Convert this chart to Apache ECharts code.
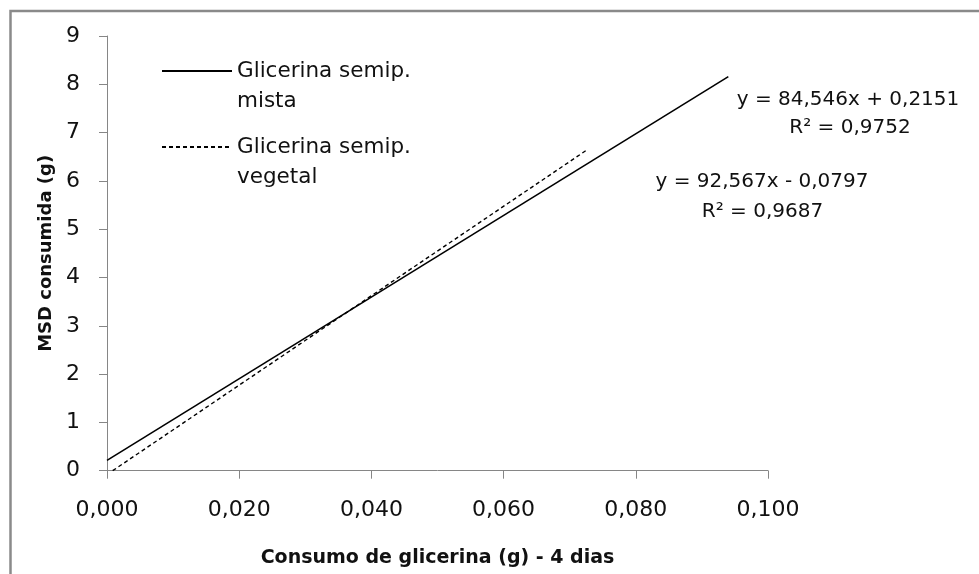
<!DOCTYPE html>
<html>
<head>
<meta charset="utf-8">
<script src="https://cdn.jsdelivr.net/npm/echarts@6/dist/echarts.min.js"></script>
<style>
html,body{margin:0;padding:0;background:#fff;}
#c{width:979px;height:574px;}
</style>
</head>
<body>
<div id="c"></div>
<script>
// Trend line end points
var mistaX = [0.0, 0.094];
var mistaY = [0.2151, 8.16];
var vegetalX = [0.00086, 0.0727];
var vegetalY = [0.0, 6.65];
var seriesNames = ['Glicerina semip. mista', 'Glicerina semip. vegetal'];
var legendLabels = ['Glicerina semip.\nmista', 'Glicerina semip.\nvegetal'];
var equations = ['y = 84,546x + 0,2151', 'R\u00b2 = 0,9752', 'y = 92,567x - 0,0797', 'R\u00b2 = 0,9687'];
var xTicks = [0, 0.02, 0.04, 0.06, 0.08, 0.1];
var yTicks = [0, 1, 2, 3, 4, 5, 6, 7, 8, 9];

function pts(xs, ys){ return xs.map(function(x,i){ return [x, ys[i]]; }); }

var FONT = 'DejaVu Sans';
var TXT = '#111';
var AX = '#868686';

var chart = echarts.init(document.getElementById('c'), null, {renderer:'canvas'});
chart.setOption({
  backgroundColor: '#fff',
  animation: false,
  grid: {left: 107, right: 211, top: 36, bottom: 103.3, containLabel: false},
  legend: {
    left: 161, top: 26, orient: 'vertical', padding: 0,
    itemWidth: 70, itemHeight: 14, itemGap: -14,
    data: seriesNames,
    itemStyle: {opacity: 0},
    formatter: function(n){ return '\n' + legendLabels[seriesNames.indexOf(n)]; },
    textStyle: {fontFamily: FONT, fontSize: 21.5, color: TXT, lineHeight: 30}
  },
  xAxis: {
    type: 'value', min: xTicks[0], max: xTicks[xTicks.length-1], interval: 0.02,
    name: 'Consumo de glicerina (g) - 4 dias', nameLocation: 'middle', nameGap: 78,
    nameTextStyle: {fontFamily: FONT, fontSize: 19, fontWeight: 'bold', color: TXT},
    axisLine: {show: true, lineStyle: {color: AX, width: 1}},
    axisTick: {show: true, length: 8, lineStyle: {color: AX}},
    splitLine: {show: false},
    axisLabel: {fontFamily: FONT, fontSize: 22, color: TXT, margin: 29,
      formatter: function(v){ return v.toFixed(3).replace('.', ','); }}
  },
  yAxis: {
    type: 'value', min: yTicks[0], max: yTicks[yTicks.length-1], interval: 1,
    name: 'MSD consumida (g)', nameLocation: 'middle', nameGap: 52,
    nameTextStyle: {fontFamily: FONT, fontSize: 18, fontWeight: 'bold', color: TXT},
    axisLine: {show: true, lineStyle: {color: AX, width: 1}},
    axisTick: {show: true, length: 8, lineStyle: {color: AX}},
    splitLine: {show: false},
    axisLabel: {fontFamily: FONT, fontSize: 22, color: TXT, margin: 27}
  },
  series: [
    {name: seriesNames[0], type: 'line', data: pts(mistaX, mistaY), symbol: 'none',
     lineStyle: {color: '#000', width: 1.6, type: 'solid'}, itemStyle: {color: '#000'}},
    {name: seriesNames[1], type: 'line', data: pts(vegetalX, vegetalY), symbol: 'none',
     lineStyle: {color: '#000', width: 1.4, type: [4, 3]}, itemStyle: {color: '#000'}}
  ],
  graphic: [
    {type: 'rect', shape: {x: 10.5, y: 11, width: 1000, height: 1000}, style: {fill: 'none', stroke: '#8a8a8a', lineWidth: 2.5}, silent: true},
    {type: 'text', x: 848, y: 100, style: {text: equations[0], font: '20px "DejaVu Sans"', fill: TXT, textAlign: 'center', textVerticalAlign: 'middle'}},
    {type: 'text', x: 850, y: 128, style: {text: equations[1], font: '20px "DejaVu Sans"', fill: TXT, textAlign: 'center', textVerticalAlign: 'middle'}},
    {type: 'text', x: 762, y: 182, style: {text: equations[2], font: '20px "DejaVu Sans"', fill: TXT, textAlign: 'center', textVerticalAlign: 'middle'}},
    {type: 'text', x: 762.5, y: 212, style: {text: equations[3], font: '20px "DejaVu Sans"', fill: TXT, textAlign: 'center', textVerticalAlign: 'middle'}}
  ]
});
</script>
</body>
</html>
